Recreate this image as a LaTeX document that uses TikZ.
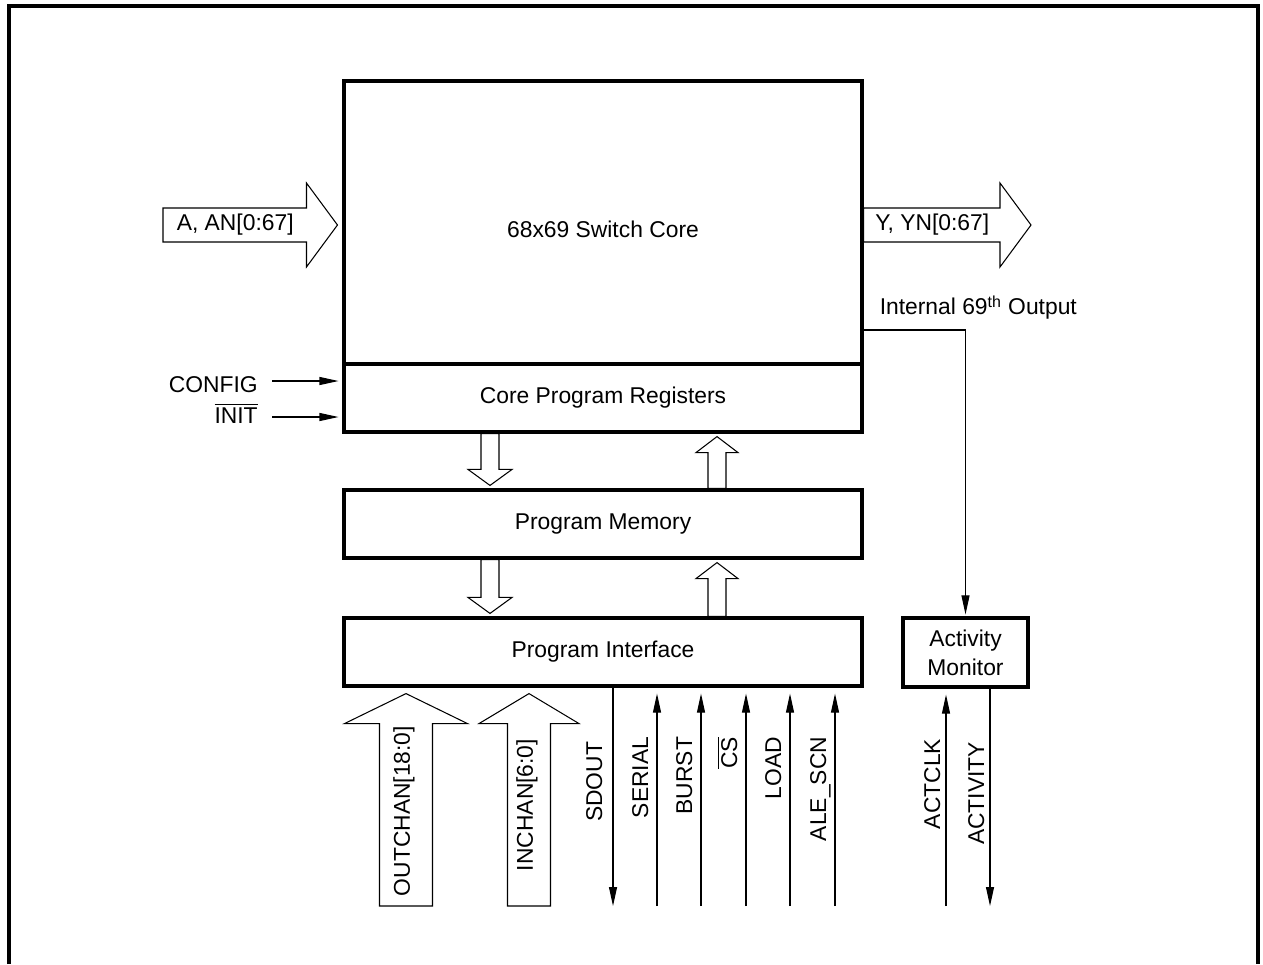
\documentclass[tikz,border=0pt]{standalone}
\usepackage{fontspec}
\setmainfont{Liberation Sans}
\usetikzlibrary{arrows.meta,calc}

% hollow bus arrows: tail, tip, half shaft, half head, head length
\newcommand{\busv}[5]{%
  \draw[bus] ($(#1)+(-#3,0)$) -- ($(#2)+(-#3,#5)$) -- ($(#2)+(-#4,#5)$) -- (#2)
    -- ($(#2)+(#4,#5)$) -- ($(#2)+(#3,#5)$) -- ($(#1)+(#3,0)$) -- cycle;}
\newcommand{\bush}[5]{%
  \draw[bus] ($(#1)+(0,-#3)$) -- ($(#2)+(-#5,-#3)$) -- ($(#2)+(-#5,-#4)$) -- (#2)
    -- ($(#2)+(-#5,#4)$) -- ($(#2)+(-#5,#3)$) -- ($(#1)+(0,#3)$) -- cycle;}

\begin{document}
\begin{tikzpicture}[x=0.02cm,y=-0.02cm,font=\fontsize{13}{16.5}\selectfont,
  box/.style={draw,line width=1.8pt,minimum width=10.36cm,minimum height=1.36cm},
  bus/.style={draw,line width=0.6pt,fill=white},
  sig/.style={line width=0.6pt,-{Triangle[length=3.8mm,width=1.6mm]}},
  lbl/.style={rotate=90,anchor=base east,inner sep=0pt}]
  \useasboundingbox (0,0) rectangle (1263,964);
  % frame
  \draw[line width=2.1pt] (9,964) -- (9,6) -- (1258,6) -- (1258,964);
  % blocks
  \node[box,minimum height=5.66cm,text height=0.61cm] (core) at (603,222.5) {68x69 Switch Core};
  \node[box] (regs) at (603,398) {Core Program Registers};
  \node[box] (mem) at (603,524) {Program Memory};
  \node[box] (iface) at (603,652) {Program Interface};
  \node[box,minimum width=2.5cm,minimum height=1.38cm,align=center] (mon) at (965.5,652.5) {Activity\\Monitor};

  % switch inputs and outputs
  \coordinate (ain) at (163,225);
  \coordinate (atip) at ($(core.west |- ain)+(-5,0)$);
  \coordinate (yout) at (core.east |- ain);
  \coordinate (ytip) at (1031,225);
  \bush{ain}{atip}{17}{42}{31}
  \bush{yout}{ytip}{17}{42}{31}
  \node (alabel) at ($(ain)!0.5!(atip)+(-15,0)$) {A, AN[0:67]};
  \node (ylabel) at ($(yout)!0.5!(ytip)+(-15,0)$) {Y, YN[0:67]};

  % register loading
  \coordinate (cfg) at (272,381);
  \coordinate (init) at (272,417);
  \draw[sig,shorten >=0.08cm] (cfg) -- (cfg -| regs.west);
  \draw[sig,shorten >=0.08cm] (init) -- (init -| regs.west);
  \node[anchor=base east,inner sep=0pt] (cfglbl) at ($(cfg)+(-14,11)$) {CONFIG};
  \node[anchor=base east,inner sep=0pt] (initlbl) at ($(init)+(-14,6)$) {$\overline{\mbox{INIT}}$};

  % buses between blocks
  \coordinate (dn1) at ($(regs.south)+(-113,0)$);
  \coordinate (dn1t) at ($(mem.north)+(-113,-3)$);
  \coordinate (up1) at ($(mem.north)+(114,0)$);
  \coordinate (up1t) at ($(regs.south)+(114,3)$);
  \coordinate (dn2) at ($(mem.south)+(-113,0)$);
  \coordinate (dn2t) at ($(iface.north)+(-113,-3)$);
  \coordinate (up2) at ($(iface.north)+(114,0)$);
  \coordinate (up2t) at ($(mem.south)+(114,3)$);
  \busv{dn1}{dn1t}{9}{22}{-16}
  \busv{up1}{up1t}{9}{21}{16}
  \busv{dn2}{dn2t}{9}{22}{-16}
  \busv{up2}{up2t}{9}{21}{16}

  % channel buses
  \coordinate (outch) at (406,906);
  \coordinate (outtip) at ($(iface.south -| outch)+(0,6)$);
  \coordinate (inch) at (529,906);
  \coordinate (intip) at ($(iface.south -| inch)+(0,6)$);
  \busv{outch}{outtip}{26.5}{61.5}{30}
  \busv{inch}{intip}{21.5}{50}{30}
  \node[rotate=90] (outlbl) at (404,811) {OUTCHAN[18:0]};
  \node[rotate=90] (inlbl) at (527,805) {INCHAN[6:0]};

  % serial port pins
  \coordinate (sdout) at (613,906);
  \draw[sig] (iface.south -| sdout) -- (sdout);
  \node[lbl] (sdoutlbl) at ($(iface.south -| sdout)+(-11,54)$) {SDOUT};
  \foreach \x/\txt [count=\i] in {657/SERIAL,701/BURST,746/{$\overline{\mbox{CS}}$},790/LOAD,835/ALE\_SCN} {
    \coordinate (pin\i) at (\x,906);
    \draw[sig,shorten >=0.12cm] (pin\i) -- (iface.south -| pin\i);
    \node[lbl] (pinlbl\i) at ($(iface.south -| pin\i)+(-9,49)$) {\txt};
  }

  % activity monitor
  \coordinate (int69) at ($(core.east)+(0,107.5)$);
  \draw[sig,shorten >=0.04cm] (int69) -- (int69 -| mon.north) -- (mon.north);
  \node[anchor=west] (int69lbl) at ($(core.east)+(10,85)$) {Internal 69\textsuperscript{th} Output};
  \coordinate (actclk) at (946,906);
  \coordinate (activity) at (990,906);
  \draw[sig,shorten >=0.12cm] (actclk) -- (mon.south -| actclk);
  \draw[sig] (mon.south -| activity) -- (activity);
  \node[lbl] (actclklbl) at ($(mon.south -| actclk)+(-6,50)$) {ACTCLK};
  \node[lbl] (activitylbl) at ($(mon.south -| activity)+(-6,53)$) {ACTIVITY};
\end{tikzpicture}
\end{document}
